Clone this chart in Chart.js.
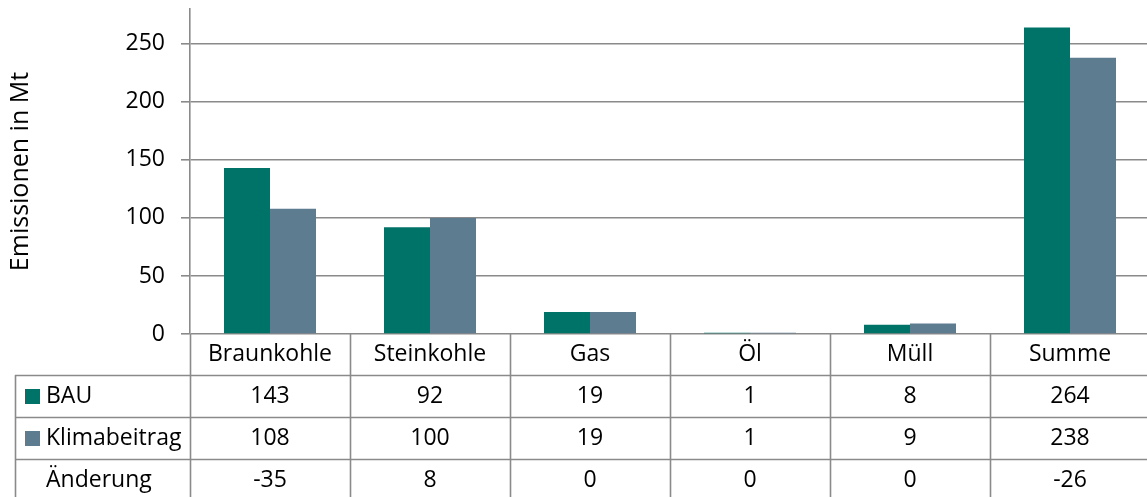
<!DOCTYPE html>
<html>
<head>
<meta charset="utf-8">
<script src="https://cdn.jsdelivr.net/npm/chart.js@4"></script>
<style>
html,body{margin:0;padding:0;overflow:hidden;background:#fff;}
canvas{display:block;}
</style>
</head>
<body>
<canvas id="c" width="1151" height="497"></canvas>
<script>
const categories = ["Braunkohle", "Steinkohle", "Gas", "Öl", "Müll", "Summe"];
const seriesNames = ["BAU", "Klimabeitrag"];
const bauValues = [143, 92, 19, 1, 8, 264];
const klimaValues = [108, 100, 19, 1, 9, 238];
const changeLabel = "Änderung";
const changeValues = [-35, 8, 0, 0, 0, -26];
const yTicks = [0, 50, 100, 150, 200, 250];
const yTitle = "Emissionen in Mt";

const FONT = "'Open Sans', sans-serif";
const FS = 23;
const GRID = "#8a8a8a";
const GW = 1.6;
const COLORS = ["#007369", "#5e7c90"];

const tablePlugin = {
  id: "dataTable",
  afterDraw(chart) {
    const ctx = chart.ctx;
    const a = chart.chartArea;
    const n = categories.length;
    const colW = (a.right - a.left) / n;
    const y0 = a.bottom;
    const rowH = [41, 42, 42, 42];
    const rowTop = [y0];
    for (let i = 0; i < rowH.length; i++) rowTop.push(rowTop[i] + rowH[i]);
    const H = chart.height;
    const tableLeft = 15;
    ctx.save();
    ctx.strokeStyle = GRID;
    ctx.lineWidth = GW;
    ctx.beginPath();
    for (let i = 0; i <= n; i++) {
      const x = Math.round(a.left + i * colW) + 0.5;
      ctx.moveTo(x, y0);
      ctx.lineTo(x, H);
    }
    for (let r = 1; r < rowTop.length - 1; r++) {
      const y = Math.round(rowTop[r]) + 0.5;
      ctx.moveTo(tableLeft, y);
      ctx.lineTo(a.right, y);
    }
    ctx.moveTo(tableLeft + 0.5, rowTop[1]);
    ctx.lineTo(tableLeft + 0.5, H);
    ctx.stroke();

    ctx.fillStyle = "#000";
    ctx.font = FS + "px " + FONT;
    ctx.textBaseline = "middle";
    ctx.textAlign = "center";
    const rows = [categories, bauValues, klimaValues, changeValues];
    rows.forEach((row, r) => {
      const cy = (rowTop[r] + rowTop[r + 1]) / 2;
      row.forEach((v, i) => {
        const cx = a.left + (i + 0.5) * colW;
        ctx.fillText(String(v), cx, cy);
      });
    });
    ctx.textAlign = "left";
    const labels = [seriesNames[0], seriesNames[1], changeLabel];
    labels.forEach((lab, k) => {
      const r = k + 1;
      const cy = (rowTop[r] + rowTop[r + 1]) / 2;
      if (k < 2) {
        ctx.fillStyle = COLORS[k];
        ctx.fillRect(25, Math.round(cy - 7.5), 15, 15);
      }
      ctx.fillStyle = "#000";
      ctx.fillText(lab, 46, cy);
    });
    ctx.restore();
  }
};

new Chart(document.getElementById("c"), {
  type: "bar",
  data: {
    labels: categories,
    datasets: [
      { label: seriesNames[0], data: bauValues, backgroundColor: COLORS[0], borderWidth: 0 },
      { label: seriesNames[1], data: klimaValues, backgroundColor: COLORS[1], borderWidth: 0 }
    ]
  },
  options: {
    responsive: false,
    animation: false,
    layout: { padding: { top: 9, bottom: 163, left: 0, right: 1 } },
    plugins: { legend: { display: false }, tooltip: { enabled: false } },
    datasets: { bar: { categoryPercentage: 0.575, barPercentage: 1.0 } },
    scales: {
      x: {
        grid: { display: false },
        border: { display: false },
        ticks: { display: false },
        afterFit(s) { s.height = 0; s.paddingLeft = 0; s.paddingRight = 0; }
      },
      y: {
        min: 0,
        max: 280,
        afterFit(s) { s.width = 190; s.paddingTop = 0; s.paddingBottom = 0; },
        afterBuildTicks(s) { s.ticks = yTicks.map(v => ({ value: v })); },
        ticks: {
          color: "#000",
          font: { family: FONT, size: FS },
          padding: 16
        },
        grid: { color: GRID, lineWidth: GW, tickLength: 9, drawTicks: true },
        border: { display: true, color: GRID, width: GW },
        title: {
          display: true,
          text: yTitle,
          color: "#000",
          font: { family: FONT, size: 25 },
          padding: { top: 6, bottom: 0 }
        }
      }
    }
  },
  plugins: [tablePlugin]
});
</script>
</body>
</html>
